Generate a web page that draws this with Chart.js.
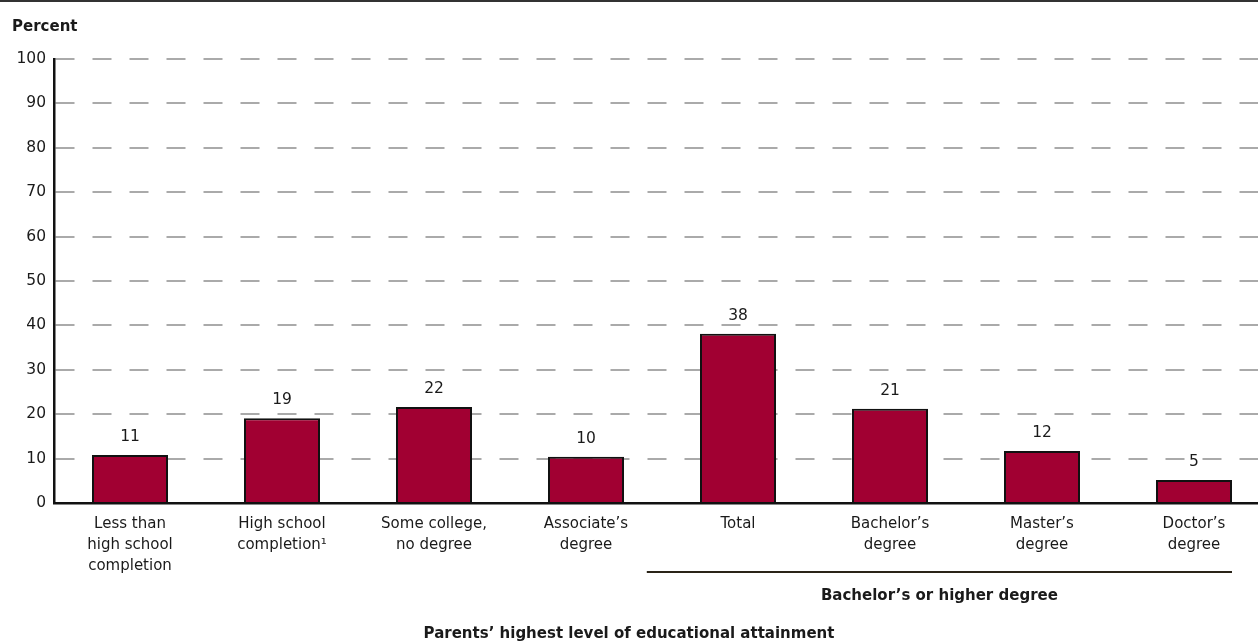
<!DOCTYPE html>
<html>
<head>
<meta charset="utf-8">
<script src="https://cdn.jsdelivr.net/npm/chart.js@4"></script>
<style>
  html, body { margin: 0; padding: 0; background: #fff; overflow: hidden; }
  #topRule { position: absolute; left: 0; top: 0; width: 1258px; height: 2px; background: #333; }
  #wrap { position: absolute; left: 0; top: 0; width: 1270px; height: 643px; }
</style>
</head>
<body>
<div id="wrap"><canvas id="chart"></canvas></div>
<div id="topRule"></div>
<script>
const categories = [
  ['Less than', 'high school', 'completion'],
  ['High school', 'completion\u00b9'],
  ['Some college,', 'no degree'],
  ['Associate\u2019s', 'degree'],
  ['Total'],
  ['Bachelor\u2019s', 'degree'],
  ['Master\u2019s', 'degree'],
  ['Doctor\u2019s', 'degree']
];
const percentValues = [10.8, 19.1, 21.6, 10.4, 38.1, 21.2, 11.7, 5.2];
const valueLabels = ['11', '19', '22', '10', '38', '21', '12', '5'];
const yTicks = [0, 10, 20, 30, 40, 50, 60, 70, 80, 90, 100];

const groupLabel = 'Bachelor\u2019s or higher degree';
const xTitle = 'Parents\u2019 highest level of educational attainment';
const yTitle = 'Percent';

const FONT = '"DejaVu Sans", "Open Sans", sans-serif';
const TEXT = '#1a1a1a';

const annotations = {
  id: 'annotations',
  afterDatasetsDraw(chart) {
    const ctx = chart.ctx;
    const x = chart.scales.x, y = chart.scales.y;
    const meta = chart.getDatasetMeta(0);
    ctx.save();
    ctx.fillStyle = TEXT;
    ctx.font = '15.5px ' + FONT;
    ctx.textAlign = 'center';
    ctx.textBaseline = 'bottom';
    meta.data.forEach((bar, i) => {
      ctx.fillText(valueLabels[i], bar.x, bar.y - 10);
    });

    // bracket under the bachelor's-or-higher group
    const cw = x.getPixelForValue(1) - x.getPixelForValue(0);
    const x0 = x.getPixelForValue(4) - 0.6 * cw;
    const x1 = x.getPixelForValue(7) + 0.25 * cw;
    const ly = y.bottom + 69;
    ctx.strokeStyle = '#2a2418';
    ctx.lineWidth = 2;
    ctx.beginPath();
    ctx.moveTo(x0, ly);
    ctx.lineTo(x1, ly);
    ctx.stroke();
    ctx.font = 'bold 15px ' + FONT;
    ctx.textBaseline = 'middle';
    ctx.fillText(groupLabel, (x0 + x1) / 2, ly + 24);

    ctx.fillText(xTitle, 629, chart.height - 9);

    ctx.textAlign = 'left';
    ctx.fillText(yTitle, 12, 27);
    ctx.restore();
  }
};

new Chart(document.getElementById('chart'), {
  type: 'bar',
  data: {
    labels: categories,
    datasets: [{
      data: percentValues,
      backgroundColor: '#a10032',
      borderColor: '#111',
      borderWidth: 2,
      borderSkipped: 'bottom',
      barPercentage: 0.5,
      categoryPercentage: 1
    }]
  },
  options: {
    responsive: true,
    maintainAspectRatio: false,
    animation: false,
    layout: { padding: { top: 59, right: 0, bottom: 0, left: 0 } },
    plugins: { legend: { display: false }, tooltip: { enabled: false }, title: { display: false } },
    scales: {
      x: {
        offset: true,
        grid: { display: false, drawTicks: false },
        border: { color: '#111', width: 2.5 },
        ticks: {
          color: TEXT,
          font: { family: FONT, size: 15, lineHeight: 1.4 },
          padding: 11,
          maxRotation: 0,
          autoSkip: false
        },
        afterFit(scale) { scale.height = 140; }
      },
      y: {
        min: 0,
        max: 100,
        afterBuildTicks(scale) { scale.ticks = yTicks.map(v => ({ value: v })); },
        grid: {
          color: '#aaaaaa',
          lineWidth: 2,
          drawTicks: false
        },
        border: { color: '#111', width: 2.5, dash: [19, 18] },
        ticks: {
          color: TEXT,
          font: { family: FONT, size: 15.5 },
          padding: 8,
          callback: v => v
        },
        afterFit(scale) { scale.width = 54; }
      }
    }
  },
  plugins: [annotations]
});
</script>
</body>
</html>
